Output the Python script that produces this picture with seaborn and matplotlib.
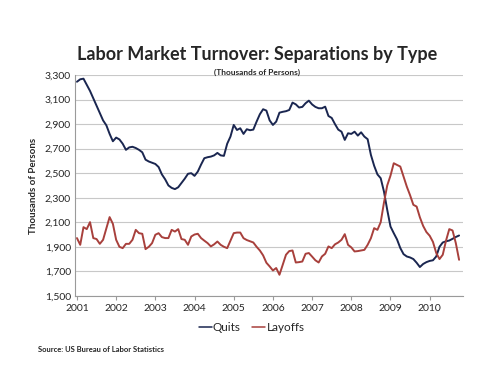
import numpy as np
import pandas as pd
import matplotlib
matplotlib.use("Agg")
import matplotlib.pyplot as plt
import seaborn as sns
from matplotlib.ticker import FuncFormatter

# Monthly values, Jan 2001 - Oct 2010 (thousands of persons)
quits = [
    3245, 3265, 3270, 3220, 3170, 3110, 3050, 2990, 2930, 2890, 2820, 2760,
    2790, 2775, 2740, 2690, 2710, 2715, 2705, 2690, 2670, 2610, 2595, 2585,
    2575, 2550, 2490, 2450, 2400, 2380, 2370, 2385, 2420, 2455, 2495, 2500,
    2478, 2513, 2570, 2622, 2630, 2635, 2645, 2665, 2645, 2641, 2740, 2798,
    2893, 2852, 2866, 2820, 2858, 2850, 2855, 2920, 2980, 3021, 3010, 2930,
    2893, 2920, 2993, 3000, 3005, 3015, 3075, 3061, 3035, 3040, 3070, 3091,
    3060, 3040, 3029, 3029, 3042, 2966, 2950, 2900, 2855, 2838, 2771, 2825,
    2820, 2838, 2806, 2833, 2798, 2777, 2649, 2560, 2490, 2459, 2350, 2201,
    2065, 2011, 1960, 1890, 1840, 1821, 1813, 1800, 1770, 1735, 1760, 1775,
    1785, 1790, 1821, 1900, 1935, 1945, 1951, 1965, 1980, 1992,
]
layoffs = [
    1971, 1916, 2060, 2044, 2101, 1971, 1963, 1924, 1957, 2050, 2142, 2087,
    1957, 1900, 1889, 1924, 1924, 1957, 2038, 2011, 2006, 1881, 1900, 1930,
    1998, 2011, 1979, 1971, 1971, 2038, 2024, 2044, 1963, 1957, 1916, 1984,
    2000, 2006, 1971, 1950, 1930, 1903, 1920, 1943, 1916, 1900, 1889, 1950,
    2011, 2016, 2016, 1970, 1955, 1945, 1935, 1900, 1870, 1830, 1770, 1740,
    1707, 1727, 1672, 1753, 1835, 1865, 1870, 1772, 1775, 1780, 1843, 1849,
    1820, 1790, 1772, 1821, 1843, 1903, 1889, 1920, 1935, 1957, 2003, 1916,
    1895, 1862, 1865, 1870, 1875, 1916, 1970, 2052, 2038, 2100, 2260, 2400,
    2480, 2581, 2567, 2554, 2472, 2390, 2320, 2242, 2228, 2140, 2070, 2020,
    1990, 1940, 1850, 1800, 1835, 1950, 2044, 2033, 1930, 1794,
]
years = list(range(2001, 2011))
yticks = list(range(1500, 3301, 200))

months = np.arange(len(quits))
t = 2001 + months / 12.0
df = pd.DataFrame({"t": np.concatenate([t, t]),
                   "value": quits + layoffs,
                   "series": ["Quits"] * len(quits) + ["Layoffs"] * len(layoffs)})

sns.set_style("white")
plt.rcParams["font.family"] = ["Lato", "DejaVu Sans"]

fig = plt.figure(figsize=(5, 3.75), dpi=100)
ax = fig.add_axes([0.15, 0.211, 0.776, 0.589])

sns.lineplot(data=df, x="t", y="value", hue="series",
             palette={"Quits": "#1a2650", "Layoffs": "#a8403c"},
             linewidth=1.4, ax=ax, legend=True)

ax.set_xlim(2000.95, 2010.85)
ax.set_ylim(1500, 3300)
ax.set_xticks(years)
ax.set_xticklabels([str(y) for y in years], fontsize=7.5)
ax.set_yticks(yticks)
ax.yaxis.set_major_formatter(FuncFormatter(lambda v, p: f"{int(v):,}"))
ax.tick_params(axis="y", labelsize=7.5, length=0, pad=3)
ax.tick_params(axis="x", length=3, width=0.8, color="#9a9a9a", direction="out",
               bottom=True, pad=3)
ax.grid(axis="y", color="#c8c8c8", linewidth=0.8)
ax.set_axisbelow(True)
for side in ["top", "right"]:
    ax.spines[side].set_visible(False)
for side in ["left", "bottom"]:
    ax.spines[side].set_color("#9a9a9a")
    ax.spines[side].set_linewidth(0.8)

ax.set_xlabel("")
ax.set_ylabel("Thousands of Persons", fontsize=7, fontweight="bold", labelpad=5)

handles, labels = ax.get_legend_handles_labels()
order = [labels.index("Quits"), labels.index("Layoffs")]
leg = ax.legend([handles[i] for i in order], [labels[i] for i in order],
                loc="upper center", bbox_to_anchor=(0.455, -0.07), ncol=2,
                frameon=False, fontsize=8.5, handlelength=1.1,
                handletextpad=0.1, columnspacing=1.0)
for line in leg.get_lines():
    line.set_linewidth(1.1)

fig.text(0.515, 0.855, "Labor Market Turnover: Separations by Type",
         ha="center", va="center", fontsize=13, fontweight="bold")
fig.text(0.515, 0.807, "(Thousands of Persons)", ha="center", va="center",
         fontsize=6, fontweight="bold")
fig.text(0.076, 0.068, "Source: US Bureau of Labor Statistics", ha="left",
         va="center", fontsize=5.5, fontweight="bold")

fig.savefig("out.png", dpi=100, facecolor="white")
